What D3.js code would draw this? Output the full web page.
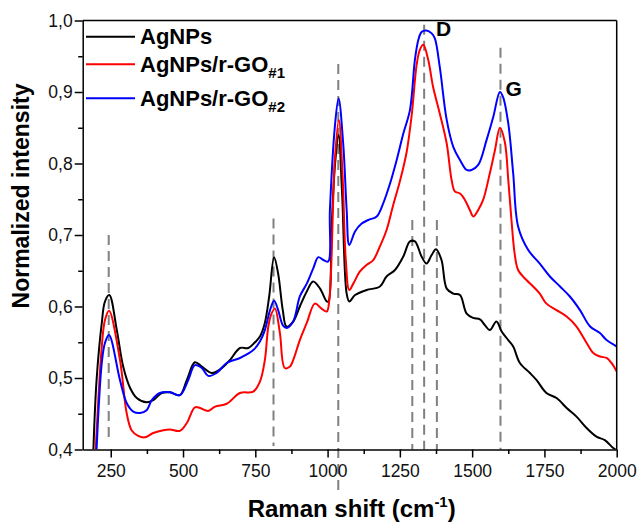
<!DOCTYPE html>
<html><head><meta charset="utf-8">
<script src="https://cdn.jsdelivr.net/npm/d3@7/dist/d3.min.js"></script>
<style>
html,body{margin:0;padding:0;background:#fff;}
svg{display:block;font-family:"Liberation Sans",Arial,sans-serif;}
</style></head>
<body><svg id="chart" width="639" height="525"></svg>
<script>
// ---- data (Raman shift cm-1, normalized intensity) ----
const seriesNames = ["AgNPs", "AgNPs/r-GO", "AgNPs/r-GO"];
const seriesSubs = ["", "#1", "#2"];
const seriesColors = ["#000000", "#ff0000", "#0000ff"];

const agnps = [[190,0.400],[201,0.497],[219,0.577],[230,0.607],[245,0.616],[271,0.567],[293,0.516],[317,0.486],[340,0.472],[374,0.466],[397,0.469],[426,0.479],[455,0.480],[489,0.476],[513,0.497],[541,0.522],[565,0.516],[599,0.507],[628,0.512],[662,0.525],[697,0.542],[726,0.542],[749,0.550],[766,0.558],[783,0.577],[798,0.614],[815,0.669],[829,0.646],[845,0.595],[858,0.572],[881,0.579],[904,0.600],[928,0.621],[950,0.635],[974,0.625],[997,0.607],[1003,0.607],[1014,0.712],[1026,0.800],[1038,0.840],[1050,0.760],[1066,0.618],[1075,0.607],[1095,0.616],[1135,0.623],[1181,0.628],[1204,0.642],[1233,0.651],[1262,0.670],[1285,0.691],[1302,0.691],[1325,0.670],[1342,0.660],[1360,0.672],[1375,0.680],[1394,0.665],[1412,0.625],[1435,0.618],[1458,0.616],[1481,0.590],[1504,0.584],[1527,0.582],[1544,0.574],[1561,0.567],[1584,0.579],[1602,0.565],[1625,0.553],[1642,0.544],[1665,0.521],[1700,0.507],[1723,0.497],[1757,0.479],[1792,0.472],[1827,0.458],[1861,0.446],[1896,0.430],[1930,0.418],[1959,0.413],[1988,0.402],[2000,0.399]];

const rgo1 = [[198,0.400],[219,0.544],[230,0.581],[244,0.594],[282,0.525],[305,0.451],[322,0.427],[345,0.419],[368,0.417],[397,0.423],[432,0.427],[455,0.428],[489,0.426],[513,0.437],[541,0.459],[559,0.458],[587,0.454],[611,0.460],[651,0.464],[697,0.479],[743,0.481],[766,0.495],[783,0.525],[795,0.572],[806,0.590],[818,0.597],[835,0.563],[852,0.514],[870,0.516],[881,0.525],[904,0.553],[928,0.577],[956,0.604],[979,0.597],[997,0.593],[1006,0.609],[1025,0.805],[1039,0.861],[1052,0.782],[1063,0.665],[1075,0.623],[1089,0.632],[1112,0.649],[1135,0.658],[1158,0.665],[1181,0.684],[1204,0.707],[1227,0.742],[1250,0.775],[1273,0.815],[1291,0.868],[1308,0.938],[1319,0.959],[1331,0.966],[1348,0.945],[1365,0.907],[1388,0.870],[1412,0.828],[1429,0.777],[1440,0.761],[1458,0.758],[1475,0.749],[1492,0.735],[1504,0.726],[1521,0.735],[1538,0.749],[1561,0.786],[1579,0.819],[1596,0.850],[1613,0.830],[1625,0.777],[1636,0.721],[1647,0.674],[1659,0.651],[1688,0.637],[1711,0.628],[1734,0.618],[1757,0.604],[1792,0.595],[1827,0.586],[1861,0.572],[1896,0.549],[1919,0.535],[1942,0.530],[1965,0.528],[1982,0.521],[2000,0.509]];

const rgo2 = [[201,0.400],[219,0.521],[230,0.549],[244,0.560],[282,0.497],[305,0.465],[328,0.453],[351,0.451],[374,0.455],[392,0.469],[420,0.479],[455,0.480],[489,0.476],[518,0.497],[541,0.518],[565,0.514],[587,0.503],[616,0.507],[651,0.521],[697,0.528],[743,0.539],[766,0.551],[783,0.567],[801,0.595],[815,0.608],[829,0.595],[845,0.574],[858,0.570],[881,0.579],[904,0.614],[928,0.632],[950,0.653],[968,0.669],[985,0.665],[1002,0.663],[1008,0.735],[1025,0.851],[1038,0.891],[1054,0.828],[1066,0.735],[1075,0.686],[1095,0.705],[1118,0.716],[1141,0.721],[1170,0.726],[1192,0.744],[1216,0.772],[1239,0.805],[1262,0.842],[1285,0.875],[1302,0.945],[1314,0.973],[1325,0.984],[1342,0.986],[1360,0.982],[1371,0.975],[1388,0.935],[1412,0.861],[1435,0.823],[1458,0.805],[1481,0.791],[1498,0.791],[1521,0.798],[1550,0.833],[1573,0.865],[1596,0.900],[1607,0.893],[1625,0.856],[1642,0.786],[1659,0.712],[1694,0.679],[1734,0.660],[1769,0.642],[1804,0.628],[1838,0.614],[1873,0.595],[1908,0.572],[1942,0.563],[1965,0.553],[2000,0.544]];

const dashPos = [243, 813, 1037, 1293, 1334, 1378, 1598];
const dashTop = [0.700, 0.723, 0.939, 0.721, 0.994, 0.721, 0.962];
const dashBottom = [0.410, 0.405, 0.343, 0.400, 0.400, 0.400, 0.400];

const bandLabels = ["D", "G"];
const bandX = [1375, 1615];
const bandY = [0.978, 0.894];

const xTicks = [250, 500, 750, 1000, 1250, 1500, 1750, 2000];
const xMinor = [375, 625, 875, 1125, 1375, 1625, 1875];
const yTicks = [0.4, 0.5, 0.6, 0.7, 0.8, 0.9, 1.0];
const yMinor = [0.45, 0.55, 0.65, 0.75, 0.85, 0.95];

// ---- drawing ----
const svg = d3.select("#chart");
const L = 82.7, R = 616.7, T = 20.5, B = 449.5;
const x = d3.scaleLinear().domain([153, 2000]).range([L, R]);
const y = d3.scaleLinear().domain([0.4, 1.0]).range([B, T]);

svg.append("defs").append("clipPath").attr("id", "clip")
  .append("rect").attr("x", L).attr("y", T).attr("width", R - L).attr("height", B - T);

// dashed reference lines
svg.append("g").selectAll("line").data(dashPos).join("line")
  .attr("x1", d => x(d)).attr("x2", d => x(d))
  .attr("y1", (d, i) => y(dashTop[i])).attr("y2", (d, i) => y(dashBottom[i]))
  .attr("stroke", "#808080").attr("stroke-width", 2).attr("stroke-dasharray", "10,6");

// curves
const line = d3.line().x(d => x(d[0])).y(d => y(d[1])).curve(d3.curveCatmullRom.alpha(0.5));
const series = [agnps, rgo1, rgo2];
svg.append("g").attr("clip-path", "url(#clip)").selectAll("path").data(series).join("path")
  .attr("d", line).attr("fill", "none")
  .attr("stroke", (d, i) => seriesColors[i]).attr("stroke-width", 2)
  .attr("stroke-linejoin", "round");

// axes
const fmt = d => d3.format(".1f")(d).replace(".", ",");
const tickFont = "17.5px";
const gx = svg.append("g").attr("transform", `translate(0,${B})`)
  .call(d3.axisBottom(x).tickValues(xTicks).tickFormat(d3.format("d")).tickSize(8).tickSizeOuter(0).tickPadding(4));
svg.append("g").attr("transform", `translate(0,${B})`)
  .call(d3.axisBottom(x).tickValues(xMinor).tickSize(4.5).tickSizeOuter(0).tickFormat(""))
  .select(".domain").remove();
const gy = svg.append("g").attr("transform", `translate(${L},0)`)
  .call(d3.axisLeft(y).tickValues(yTicks).tickSize(8).tickSizeOuter(0).tickFormat(fmt).tickPadding(2));
svg.append("g").attr("transform", `translate(${L},0)`)
  .call(d3.axisLeft(y).tickValues(yMinor).tickSize(4.5).tickSizeOuter(0).tickFormat(""))
  .select(".domain").remove();
svg.selectAll(".tick line").attr("stroke", "#000").attr("stroke-width", 1.5);
svg.selectAll(".domain").attr("stroke", "#000").attr("stroke-width", 1.5);
svg.selectAll(".tick text").attr("font-size", tickFont).attr("fill", "#111")
  .attr("font-family", "'Liberation Sans', Arial, sans-serif");
gx.selectAll(".tick text").attr("dy", "0.9em");

// frame top & right
svg.append("line").attr("x1", L).attr("x2", R).attr("y1", T).attr("y2", T).attr("stroke", "#000").attr("stroke-width", 1.5);
svg.append("line").attr("x1", R).attr("x2", R).attr("y1", T).attr("y2", B).attr("stroke", "#000").attr("stroke-width", 1.5);

// axis titles
const xt = svg.append("text").attr("x", (L + R) / 2 + 2).attr("y", 517)
  .attr("text-anchor", "middle").attr("font-weight", "bold").attr("font-size", "24px").attr("fill", "#000");
xt.append("tspan").text("Raman shift (cm");
xt.append("tspan").attr("font-size", "15px").attr("dy", "-10").text("-1");
xt.append("tspan").attr("dy", "10").text(")");

svg.append("text").attr("transform", `translate(29,196) rotate(-90)`)
  .attr("text-anchor", "middle").attr("font-weight", "bold").attr("font-size", "23px").attr("fill", "#000")
  .text("Normalized intensity");

// band labels
svg.append("g").selectAll("text").data(bandLabels).join("text")
  .attr("x", (d, i) => x(bandX[i])).attr("y", (d, i) => y(bandY[i]))
  .attr("font-weight", "bold").attr("font-size", "21px").attr("fill", "#000").text(d => d);

// legend
const legY = [36.7, 64.3, 98.3];
const leg = svg.append("g");
seriesNames.forEach((n, i) => {
  leg.append("line").attr("x1", 86).attr("x2", 135).attr("y1", legY[i]).attr("y2", legY[i])
    .attr("stroke", seriesColors[i]).attr("stroke-width", 2);
  const t = leg.append("text").attr("x", 140).attr("y", legY[i] + 7.5)
    .attr("font-weight", "bold").attr("font-size", "22px").attr("fill", "#000");
  t.append("tspan").text(n);
  if (seriesSubs[i]) t.append("tspan").attr("font-size", "15px").attr("dy", "6").text(seriesSubs[i]);
});
</script></body></html>
